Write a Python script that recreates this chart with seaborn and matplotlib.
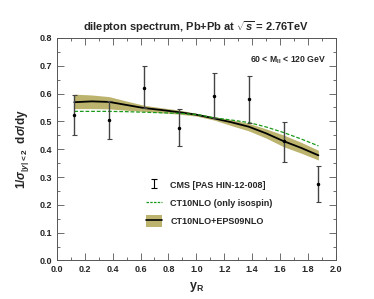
"""
Dilepton rapidity spectrum in Pb+Pb at sqrt(s) = 2.76 TeV
CMS data vs CT10NLO and CT10NLO+EPS09NLO predictions
"""

import numpy as np
import matplotlib.pyplot as plt
import seaborn as sns
from matplotlib.patches import Patch
from matplotlib.lines import Line2D
from matplotlib.ticker import MultipleLocator

# CMS data points
y_bins = [0.125, 0.375, 0.625, 0.875, 1.125, 1.375, 1.625, 1.875]
cms_val = [0.523, 0.505, 0.619, 0.478, 0.592, 0.581, 0.429, 0.276]
cms_hi = [0.596, 0.574, 0.700, 0.544, 0.675, 0.664, 0.499, 0.340]
cms_lo = [0.451, 0.435, 0.547, 0.411, 0.511, 0.496, 0.353, 0.209]

# theory curves, read every 0.125 in y_R
y_theory = [0.125, 0.25, 0.375, 0.5, 0.625, 0.75, 0.875, 1.0,
            1.125, 1.25, 1.375, 1.5, 1.625, 1.75, 1.875]
iso_val = [0.536, 0.536, 0.536, 0.535, 0.533, 0.531, 0.529, 0.525,
           0.513, 0.505, 0.496, 0.480, 0.460, 0.437, 0.412]
eps_val = [0.569, 0.572, 0.570, 0.559, 0.548, 0.541, 0.533, 0.524,
           0.511, 0.497, 0.481, 0.457, 0.429, 0.405, 0.378]
eps_hi = [0.598, 0.595, 0.589, 0.573, 0.558, 0.549, 0.541, 0.529,
          0.517, 0.506, 0.493, 0.473, 0.451, 0.425, 0.396]
eps_lo = [0.546, 0.546, 0.545, 0.540, 0.536, 0.531, 0.526, 0.519,
          0.505, 0.485, 0.466, 0.440, 0.409, 0.386, 0.361]

sns.set_style("ticks")
plt.rcParams['font.family'] = ['Liberation Sans', 'DejaVu Sans']
plt.rcParams['font.weight'] = 'bold'
plt.rcParams['mathtext.fontset'] = 'custom'
plt.rcParams['mathtext.rm'] = 'Liberation Sans:bold'
plt.rcParams['mathtext.it'] = 'Liberation Sans:italic:bold'
plt.rcParams['mathtext.bf'] = 'Liberation Sans:bold'

band_color = '#bcb46e'
green = '#1a9a1a'

fig = plt.figure(figsize=(3.74, 2.99), dpi=100)
ax = fig.add_axes([0.152, 0.129, 0.746, 0.744])

# EPS09 band + central line
ax.fill_between(y_theory, eps_lo, eps_hi, color=band_color, lw=0)
sns.lineplot(x=y_theory, y=eps_val, ax=ax, color='black', lw=1.3)

# isospin only
sns.lineplot(x=y_theory, y=iso_val, ax=ax, color=green, lw=0.9, linestyle=(0, (3, 1.5)))

# CMS data
val = np.array(cms_val)
yerr = [val - np.array(cms_lo), np.array(cms_hi) - val]
ax.errorbar(y_bins, val, yerr=yerr, fmt='o', ms=1.5, color='black',
            ecolor='#444444', elinewidth=1.0, capsize=1.8, capthick=0.8)

ax.set_xlim(0, 2.0)
ax.set_ylim(0, 0.8)
ax.xaxis.set_major_locator(MultipleLocator(0.2))
ax.xaxis.set_minor_locator(MultipleLocator(0.1))
ax.yaxis.set_major_locator(MultipleLocator(0.1))
ax.yaxis.set_minor_locator(MultipleLocator(0.05))
ax.tick_params(which='both', direction='in', top=True, right=True,
               labelsize=6.5, width=0.6, color='#555555')
ax.tick_params(which='major', length=5)
ax.tick_params(which='minor', length=2.5)
for s in ax.spines.values():
    s.set_linewidth(0.7)
    s.set_color('#555555')
ax.xaxis.set_major_formatter(plt.FuncFormatter(lambda v, p: f'{v:.1f}'))
ax.yaxis.set_major_formatter(plt.FuncFormatter(lambda v, p: f'{v:.1f}'))

ax.set_xlabel(r'$\mathbf{y_R}$', fontsize=9, loc='center', labelpad=4)
ax.set_ylabel(r'1/$\sigma_{|y|<2}$  d$\sigma$/dy', fontsize=8.5, fontweight='bold', labelpad=6)
ax.set_title(r'dilepton spectrum, Pb+Pb at $\sqrt{s}$ = 2.76TeV', fontsize=8,
             fontweight='bold', pad=5)
ax.text(0.965, 0.9, r'60 < M$_{\rm ll}$ < 120 GeV', transform=ax.transAxes,
        ha='right', va='center', fontsize=6.2, fontweight='bold')

# legend handles
h_cms = ax.errorbar([np.nan], [np.nan], yerr=[[0.01], [0.01]], fmt='none',
                    ecolor='black', elinewidth=0.8, capsize=2, capthick=0.8)
h_iso = Line2D([], [], color=green, lw=0.9, ls=(0, (2, 1)))
h_eps = (Patch(facecolor=band_color, edgecolor='none'), Line2D([], [], color='black', lw=1.2))
ax.legend([h_cms, h_iso, h_eps],
          ['CMS [PAS HIN-12-008]', 'CT10NLO (only isospin)', 'CT10NLO+EPS09NLO'],
          loc='upper left', bbox_to_anchor=(0.29, 0.40), frameon=False,
          fontsize=6.5, handlelength=1.8, handleheight=1.6, labelspacing=0.7,
          handletextpad=0.9)

fig.savefig('out.png', dpi=100)
